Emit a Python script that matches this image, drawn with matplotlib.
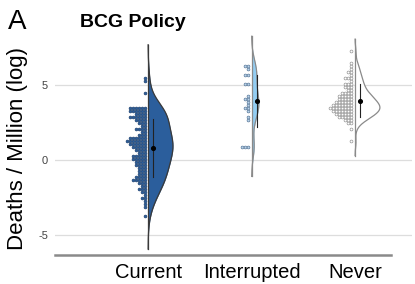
import numpy as np
import matplotlib
matplotlib.use("Agg")
import matplotlib.pyplot as plt

plt.rcParams['font.family'] = ['Liberation Sans', 'DejaVu Sans']

# log deaths per million
groups = ['Current', 'Interrupted', 'Never']

current = [5.5, 5.3, 4.5,
           3.5, 3.5, 3.5, 3.5, 3.5, 3.5, 3.3, 3.3, 3.3, 3.3, 3.3, 3.3,
           3.1, 3.1, 3.1, 3.1, 2.9, 2.9, 2.9, 2.9, 2.9, 2.9,
           2.7, 2.7, 2.7, 2.7, 2.5, 2.5, 2.5, 2.3, 2.3,
           2.1, 2.1, 2.1, 2.1, 1.9, 1.9, 1.7, 1.7, 1.7,
           1.5, 1.5, 1.5, 1.5, 1.5, 1.5, 1.3, 1.3, 1.3, 1.3, 1.3, 1.3, 1.3,
           1.1, 1.1, 1.1, 1.1, 1.1, 1.1, 0.9, 0.9, 0.9, 0.9, 0.9,
           0.7, 0.7, 0.7, 0.7, 0.5, 0.5, 0.5,
           0.3, 0.3, 0.3, 0.3, 0.3, 0.1, 0.1, 0.1, 0.1, 0.1,
           -0.1, -0.1, -0.1, -0.1, -0.3, -0.3, -0.3, -0.3,
           -0.5, -0.5, -0.5, -0.7, -0.7, -0.7,
           -0.9, -0.9, -0.9, -1.1, -1.1, -1.1, -1.1,
           -1.3, -1.3, -1.3, -1.3, -1.3, -1.5, -1.5, -1.5,
           -1.7, -1.7, -1.9, -1.9, -1.9,
           -2.1, -2.1, -2.3, -2.5, -2.5,
           -2.7, -2.9, -3.1, -3.7]

interrupted = [6.3, 6.3, 6.1, 5.7, 5.7, 5.1, 5.1, 4.3, 4.1, 4.1,
               3.9, 3.7, 3.5, 3.5, 3.3, 2.9, 2.7, 0.9, 0.9, 0.9]

never = [7.2, 6.5, 6.3, 6.1, 5.9, 5.9, 5.7, 5.5, 5.5, 5.5, 5.3,
         5.1, 5.1, 5.1, 4.9, 4.9, 4.9, 4.7, 4.7,
         4.5, 4.5, 4.5, 4.5, 4.3, 4.3, 4.3, 4.3, 4.3,
         4.1, 4.1, 4.1, 4.1, 4.1, 3.9, 3.9, 3.9, 3.9, 3.9, 3.9,
         3.7, 3.7, 3.7, 3.7, 3.7, 3.7, 3.7,
         3.5, 3.5, 3.5, 3.5, 3.5, 3.5, 3.5, 3.5,
         3.3, 3.3, 3.3, 3.3, 3.3, 3.3, 3.3,
         3.1, 3.1, 3.1, 3.1, 3.1, 3.1, 2.9, 2.9, 2.9, 2.9, 2.9,
         2.7, 2.7, 2.7, 2.5, 2.5, 2.1, 1.2]

data = [current, interrupted, never]

violin_fill = ['#2b5e9c', '#93cdf2', 'white']
violin_edge = ['#3a3a3a', '#8a8a8a', '#8a8a8a']
dot_fill = ['#2b5e9c', '#b9d3ea', 'white']
dot_edge = ['#1d3f6b', '#4f6f91', '#8a8a8a']
max_width = [0.24, 0.07, 0.24]   # half-violin width at the peak, x units
bw_adjust = [1.3, 1.0, 1.0]


def kde(vals, grid, adjust=1.0):
    vals = np.asarray(vals)
    n = len(vals)
    sd = vals.std(ddof=1)
    iqr = np.subtract(*np.percentile(vals, [75, 25]))
    bw = 0.9 * min(sd, iqr / 1.34) * n ** -0.2 * adjust
    d = np.exp(-0.5 * ((grid[:, None] - vals[None, :]) / bw) ** 2).sum(axis=1)
    return d / (n * bw * np.sqrt(2 * np.pi)), bw


fig = plt.figure(figsize=(4.15, 2.84), dpi=100)
ax = fig.add_axes([55 / 415, 29 / 284, 357 / 415, 226 / 284])

for i, vals in enumerate(data):
    vals = np.asarray(vals)
    _, bw = kde(vals, np.array([0.0]), bw_adjust[i])
    grid = np.linspace(vals.min() - 2.6 * bw, vals.max() + 2.6 * bw, 300)
    dens, _ = kde(vals, grid, bw_adjust[i])
    w = dens / dens.max() * max_width[i]
    ax.fill_betweenx(grid, i, i + w, color=violin_fill[i], lw=0, zorder=2)
    ax.plot(i + w, grid, color=violin_edge[i], lw=0.9, zorder=3)
    ax.plot([i, i], [grid[0], grid[-1]], color=violin_edge[i], lw=0.9, zorder=3)

    # dots, binned and stacked to the left of the centre line
    bins = np.floor(vals / 0.2 + 1e-6) * 0.2 + 0.1
    for b in np.unique(bins):
        k = int((bins == b).sum())
        xs = i - 0.035 - 0.029 * np.arange(k)
        ax.scatter(xs, np.full(k, b), s=4.2, facecolor=dot_fill[i],
                   edgecolor=dot_edge[i], linewidth=0.45, zorder=4)

    m = vals.mean()
    sd = vals.std(ddof=1)
    ax.plot([i + 0.05, i + 0.05], [m - sd, m + sd],
            color='#222222', lw=0.8, zorder=5)
    ax.scatter([i + 0.05], [m], s=7, color='black', zorder=6)

ax.set_xlim(-0.9, 2.55)
ax.set_ylim(-6.3, 8.75)
ax.set_yticks([-5, 0, 5])
ax.set_yticklabels(['-5', '0', '5'])
ax.yaxis.grid(True, color='#dddddd', lw=0.9)
ax.set_axisbelow(True)
ax.tick_params(axis='y', length=0, labelsize=8, colors='#444444', pad=5)
ax.set_xticks([0, 1, 2])
ax.set_xticklabels(groups, fontsize=14.5)
ax.tick_params(axis='x', length=0, pad=6)
for s in ['top', 'right', 'left']:
    ax.spines[s].set_visible(False)
ax.spines['bottom'].set_color('#8a8a8a')
ax.spines['bottom'].set_linewidth(1.8)
ax.spines['bottom'].set_bounds(-0.9, 2.35)
ax.set_ylabel('Deaths / Million (log)', fontsize=16)
ax.yaxis.set_label_coords(-0.075, 0.47)

fig.text(0.02, 0.97, 'A', fontsize=20, va='top', ha='left')
fig.text(133 / 415, 0.92, 'BCG Policy', fontsize=14, fontweight='bold',
         ha='center', va='center')

fig.savefig('out.png', dpi=100)
